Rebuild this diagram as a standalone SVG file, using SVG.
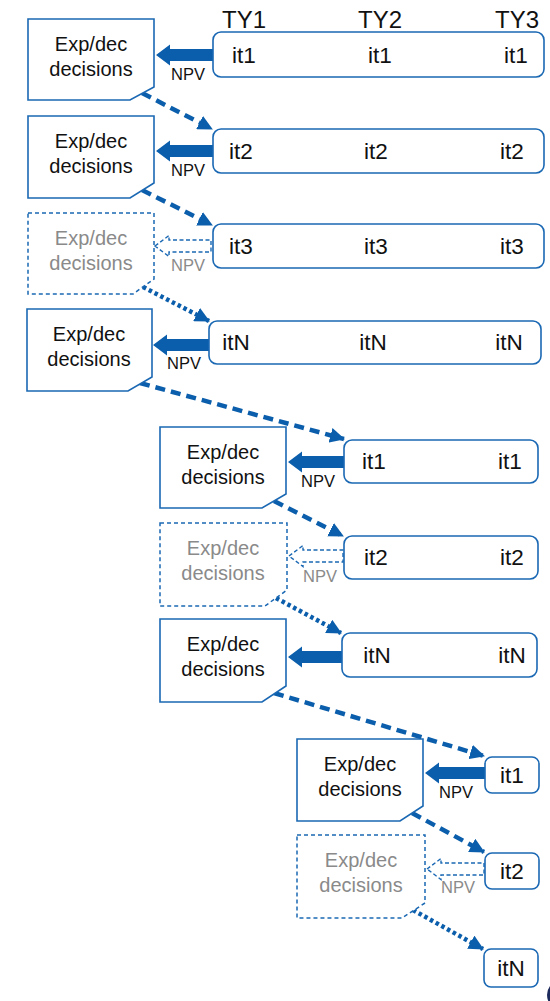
<svg xmlns="http://www.w3.org/2000/svg" width="550" height="1001" viewBox="0 0 550 1001">
<defs>
<style>
.doc{fill:#fff;stroke:#1a68b3;stroke-width:1.6}
.docd{fill:#fff;stroke:#1a68b3;stroke-width:1.5;stroke-dasharray:4 3}
.row{fill:#fff;stroke:#1a68b3;stroke-width:1.6}
.t{font-family:"Liberation Sans",Arial,sans-serif;fill:#111}
.dt{font-size:20px;text-anchor:middle}
.g{fill:#8a8a8a}
.it{font-size:22.5px;text-anchor:middle}
.ty{font-size:24px}
.npv{font-size:16.5px}
.sa{fill:#0b5eab}
.ha{fill:#fff;stroke:#1a68b3;stroke-width:1.4;stroke-dasharray:4 2.5}
.cd{fill:none;stroke:#0b5eab;stroke-width:4.5;stroke-dasharray:10 6;marker-end:url(#ah)}
.co{fill:none;stroke:#0b5eab;stroke-width:4.5;stroke-dasharray:3.5 3;marker-end:url(#ah)}
</style>
<marker id="ah" markerUnits="userSpaceOnUse" markerWidth="15" markerHeight="15" refX="14" refY="7.5" orient="auto" viewBox="0 0 15 15">
<path d="M0,0 L15,7.5 L0,15 Z" fill="#0b5eab"/>
</marker>
</defs>

<g id="headers" class="t ty">
<text x="222" y="28">TY1</text>
<text x="358" y="28">TY2</text>
<text x="495" y="28">TY3</text>
</g>

<g id="connectors">
<path class="cd" d="M142,93 L212,129"/>
<path class="cd" d="M142,190 L212,225"/>
<path class="co" d="M143,287 L209,321"/>
<path class="cd" d="M140,383 L344,439"/>
<path class="cd" d="M274,501 L343,536"/>
<path class="co" d="M276,598 L341,633"/>
<path class="cd" d="M274,693 L484,756"/>
<path class="cd" d="M412,813 L484,852"/>
<path class="co" d="M413,910 L483,949"/>
<path class="sa" d="M156,55 L170,44.5 L170,49 L213,49 L213,61 L170,61 L170,65.5 Z"/>
<path class="sa" d="M156,151 L170,140.5 L170,145 L213,145 L213,157 L170,157 L170,161.5 Z"/>
<path class="ha" d="M155,246 L169,235.5 L169,240 L211,240 L211,252 L169,252 L169,256.5 Z"/>
<path class="sa" d="M153,345 L167,334.5 L167,339 L209,339 L209,351 L167,351 L167,355.5 Z"/>
<path class="sa" d="M288,462 L302,451.5 L302,456 L344,456 L344,468 L302,468 L302,472.5 Z"/>
<path class="ha" d="M289,556 L303,545.5 L303,550 L343,550 L343,562 L303,562 L303,566.5 Z"/>
<path class="sa" d="M288,657 L302,646.5 L302,651 L343,651 L343,663 L302,663 L302,667.5 Z"/>
<path class="sa" d="M425,773 L439,762.5 L439,767 L485,767 L485,779 L439,779 L439,783.5 Z"/>
<path class="ha" d="M427,869 L441,858.5 L441,863 L484,863 L484,875 L441,875 L441,879.5 Z"/>
</g>

<g id="npv-labels" class="t npv">
<text x="171" y="80">NPV</text>
<text x="171" y="176">NPV</text>
<text x="171" y="271" class="g">NPV</text>
<text x="167" y="369">NPV</text>
<text x="301" y="487">NPV</text>
<text x="303" y="582" class="g">NPV</text>
<text x="439" y="798">NPV</text>
<text x="441" y="893" class="g">NPV</text>
</g>

<g id="doc1"><path class="doc" d="M28,19 H154 V87 L130,100 H28 Z"/>
<text class="t dt" x="91" y="51">Exp/dec</text><text class="t dt" x="91" y="76">decisions</text></g>
<g id="doc2"><path class="doc" d="M28,116 H154 V183 L130,198 H28 Z"/>
<text class="t dt" x="91" y="148">Exp/dec</text><text class="t dt" x="91" y="173">decisions</text></g>
<g id="doc3"><path class="docd" d="M28,213 H154 V279 L133,294 H28 Z"/>
<text class="t dt g" x="91" y="245">Exp/dec</text><text class="t dt g" x="91" y="270">decisions</text></g>
<g id="doc4"><path class="doc" d="M27,309 H152 V377 L128,391 H27 Z"/>
<text class="t dt" x="89" y="341">Exp/dec</text><text class="t dt" x="89" y="366">decisions</text></g>
<g id="doc5"><path class="doc" d="M160,427 H286 V494 L262,508 H160 Z"/>
<text class="t dt" x="223" y="459">Exp/dec</text><text class="t dt" x="223" y="484">decisions</text></g>
<g id="doc6"><path class="docd" d="M160,523 H287 V590 L265,606 H160 Z"/>
<text class="t dt g" x="223" y="555">Exp/dec</text><text class="t dt g" x="223" y="580">decisions</text></g>
<g id="doc7"><path class="doc" d="M160,619 H286 V686 L262,702 H160 Z"/>
<text class="t dt" x="223" y="651">Exp/dec</text><text class="t dt" x="223" y="676">decisions</text></g>
<g id="doc8"><path class="doc" d="M297,739 H423 V806 L400,821 H297 Z"/>
<text class="t dt" x="360" y="771">Exp/dec</text><text class="t dt" x="360" y="796">decisions</text></g>
<g id="doc9"><path class="docd" d="M297,835 H425 V903 L402,918 H297 Z"/>
<text class="t dt g" x="361" y="867">Exp/dec</text><text class="t dt g" x="361" y="892">decisions</text></g>

<g id="row1"><rect class="row" x="213" y="32" width="331" height="45" rx="8"/>
<g class="t it"><text x="244" y="63">it1</text><text x="380" y="63">it1</text><text x="516" y="63">it1</text></g></g>
<g id="row2"><rect class="row" x="213" y="129" width="331" height="44" rx="8"/>
<g class="t it"><text x="241" y="159">it2</text><text x="376" y="159">it2</text><text x="512" y="159">it2</text></g></g>
<g id="row3"><rect class="row" x="213" y="224" width="331" height="44" rx="8"/>
<g class="t it"><text x="241" y="254">it3</text><text x="376" y="254">it3</text><text x="512" y="254">it3</text></g></g>
<g id="row4"><rect class="row" x="209" y="321" width="332" height="43" rx="8"/>
<g class="t it"><text x="236" y="350">itN</text><text x="373" y="350">itN</text><text x="509" y="350">itN</text></g></g>
<g id="row5"><rect class="row" x="344" y="440" width="194" height="43" rx="8"/>
<g class="t it"><text x="374" y="469">it1</text><text x="510" y="469">it1</text></g></g>
<g id="row6"><rect class="row" x="344" y="536" width="194" height="43" rx="8"/>
<g class="t it"><text x="376" y="565">it2</text><text x="512" y="565">it2</text></g></g>
<g id="row7"><rect class="row" x="342" y="633" width="195" height="44" rx="8"/>
<g class="t it"><text x="377" y="663">itN</text><text x="512" y="663">itN</text></g></g>
<g id="row8"><rect class="row" x="485" y="757" width="54" height="36" rx="7"/>
<text class="t it" x="512" y="783">it1</text></g>
<g id="row9"><rect class="row" x="485" y="853" width="54" height="36" rx="7"/>
<text class="t it" x="512" y="879">it2</text></g>
<g id="row10"><rect class="row" x="484" y="949" width="54" height="38" rx="7"/>
<text class="t it" x="511" y="976">itN</text></g>

<circle cx="562" cy="995" r="15" fill="#1d2b5c"/>
</svg>
